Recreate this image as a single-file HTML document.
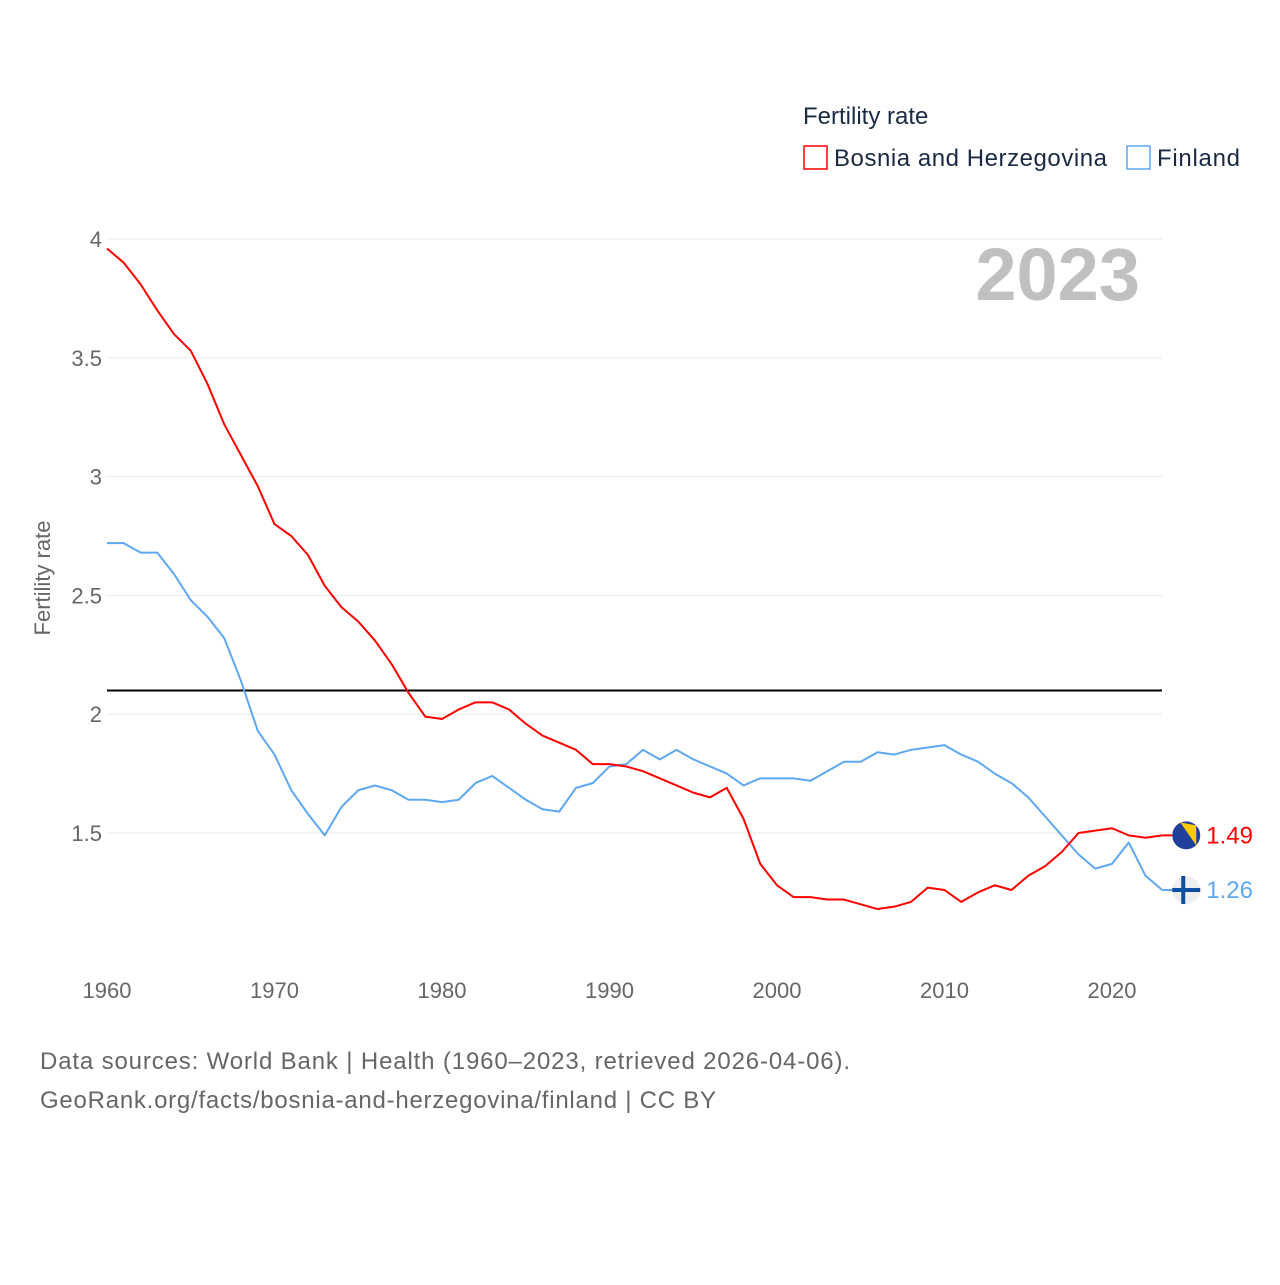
<!DOCTYPE html>
<html><head><meta charset="utf-8"><style>
body{margin:0;background:#fff;font-family:"Liberation Sans",sans-serif}
svg text{font-family:"Liberation Sans",sans-serif}
</style></head><body>
<svg id="chart" width="1280" height="1280" viewBox="0 0 1280 1280">
<g id="grid"></g>
<g id="yticks"></g>
<g id="xticks"></g>
<text x="50" y="578" transform="rotate(-90 50 578)" text-anchor="middle" font-size="22" fill="#666">Fertility rate</text>
<text x="1140" y="300" text-anchor="end" font-size="74" font-weight="bold" fill="#c0c0c0">2023</text>
<g>
<text x="803" y="124" font-size="24" fill="#1a2a44">Fertility rate</text>
<g><rect x="804" y="146" width="23" height="23" fill="none" stroke="#ff0000" stroke-width="1.5"/><text x="834" y="166" font-size="24" fill="#1a2a44" textLength="273">Bosnia and Herzegovina</text></g>
<g><rect x="1127" y="146" width="23" height="23" fill="none" stroke="#5ea8ef" stroke-width="1.5"/><text x="1157" y="166" font-size="24" fill="#1a2a44" textLength="83">Finland</text></g>
</g>
<g id="series"></g>
<g id="ends"></g>
<text x="40" y="1069" font-size="24" fill="#666" textLength="810">Data sources: World Bank | Health (1960–2023, retrieved 2026-04-06).</text>
<text x="40" y="1108" font-size="24" fill="#666" textLength="676">GeoRank.org/facts/bosnia-and-herzegovina/finland | CC BY</text>
</svg>
<script>
const startYear = 1960;
const bosnia = [3.96,3.90,3.81,3.70,3.60,3.53,3.39,3.22,3.09,2.96,2.80,2.75,2.67,2.54,2.45,2.39,2.31,2.21,2.09,1.99,1.98,2.02,2.05,2.05,2.02,1.96,1.91,1.88,1.85,1.79,1.79,1.78,1.76,1.73,1.70,1.67,1.65,1.69,1.56,1.37,1.28,1.23,1.23,1.22,1.22,1.20,1.18,1.19,1.21,1.27,1.26,1.21,1.25,1.28,1.26,1.32,1.36,1.42,1.50,1.51,1.52,1.49,1.48,1.49];
const finland = [2.72,2.72,2.68,2.68,2.59,2.48,2.41,2.32,2.14,1.93,1.83,1.68,1.58,1.49,1.61,1.68,1.70,1.68,1.64,1.64,1.63,1.64,1.71,1.74,1.69,1.64,1.60,1.59,1.69,1.71,1.78,1.79,1.85,1.81,1.85,1.81,1.78,1.75,1.70,1.73,1.73,1.73,1.72,1.76,1.80,1.80,1.84,1.83,1.85,1.86,1.87,1.83,1.80,1.75,1.71,1.65,1.57,1.49,1.41,1.35,1.37,1.46,1.32,1.26];
const yTicks = [1.5,2,2.5,3,3.5,4];
const yTickLabels = ["1.5","2","2.5","3","3.5","4"];
const xTicks = [1960,1970,1980,1990,2000,2010,2020];
const replacement = 2.1;

const X = y => 107 + (y - 1960) * 16.75;
const Y = v => 833 - (v - 1.5) * 237.6;
const NS = "http://www.w3.org/2000/svg";
function mk(tag, attrs, parent){const e=document.createElementNS(NS,tag);for(const k in attrs)e.setAttribute(k,attrs[k]);parent.appendChild(e);return e;}
const grid=document.getElementById('grid'), yt=document.getElementById('yticks'), xt=document.getElementById('xticks'), ser=document.getElementById('series'), ends=document.getElementById('ends');
yTicks.forEach((v,i)=>{
  const l=mk('line',{x1:107,x2:1162,y1:Y(v),y2:Y(v),stroke:'#e8e8e8','stroke-width':1},grid);
  
  
  const t=mk('text',{x:102,y:Y(v)+8,'text-anchor':'end','font-size':22,fill:'#666'},yt);
  t.textContent=yTickLabels[i];
  
  
});
xTicks.forEach(y=>{
  const t=mk('text',{x:X(y),y:998,'text-anchor':'middle','font-size':22,fill:'#666'},xt);
  t.textContent=y;
  
  
});
const rl=mk('line',{x1:107,x2:1162,y1:Y(replacement),y2:Y(replacement),stroke:'#000','stroke-width':2},ser);


function line(data,color,name){
  const p=mk('polyline',{points:data.map((v,i)=>X(startYear+i)+','+Y(v)).join(' '),fill:'none',stroke:color,'stroke-width':2,'stroke-linejoin':'round'},ser);
  
  
}
line(finland,'#5ea8ef','finland-line');
line(bosnia,'#ff0000','bosnia-line');
function endMark(data,color,name,flag){
  const v=data[data.length-1], x=X(startYear+data.length-1)+24, y=Y(v);
  const g=mk('g',{},ends);
  
  
  mk('line',{x1:x-24,x2:x-14,y1:y,y2:y,stroke:color,'stroke-width':2},g);
  if(flag==='ba'){
    mk('circle',{cx:x,cy:y,r:14,fill:'#1f3f9a'},g);
    mk('path',{d:`M${x-6} ${y-13} L${x+10} ${y-10} L${x+10} ${y+10} Z`,fill:'#fecb00'},g);
  } else {
    mk('circle',{cx:x,cy:y,r:14,fill:'#eee'},g);
    mk('rect',{x:x-14,y:y-2,width:28,height:4,fill:'#0b4ea2'},g);
    mk('rect',{x:x-5,y:y-14,width:4,height:28,fill:'#0b4ea2'},g);
  }
  const t=mk('text',{x:x+20,y:y+8,'font-size':24,fill:color},g);
  t.textContent=v.toFixed(2);
}
endMark(bosnia,'#ff0000','bosnia-end-label','ba');
endMark(finland,'#5ea8ef','finland-end-label','fi');
</script>
</body></html>
